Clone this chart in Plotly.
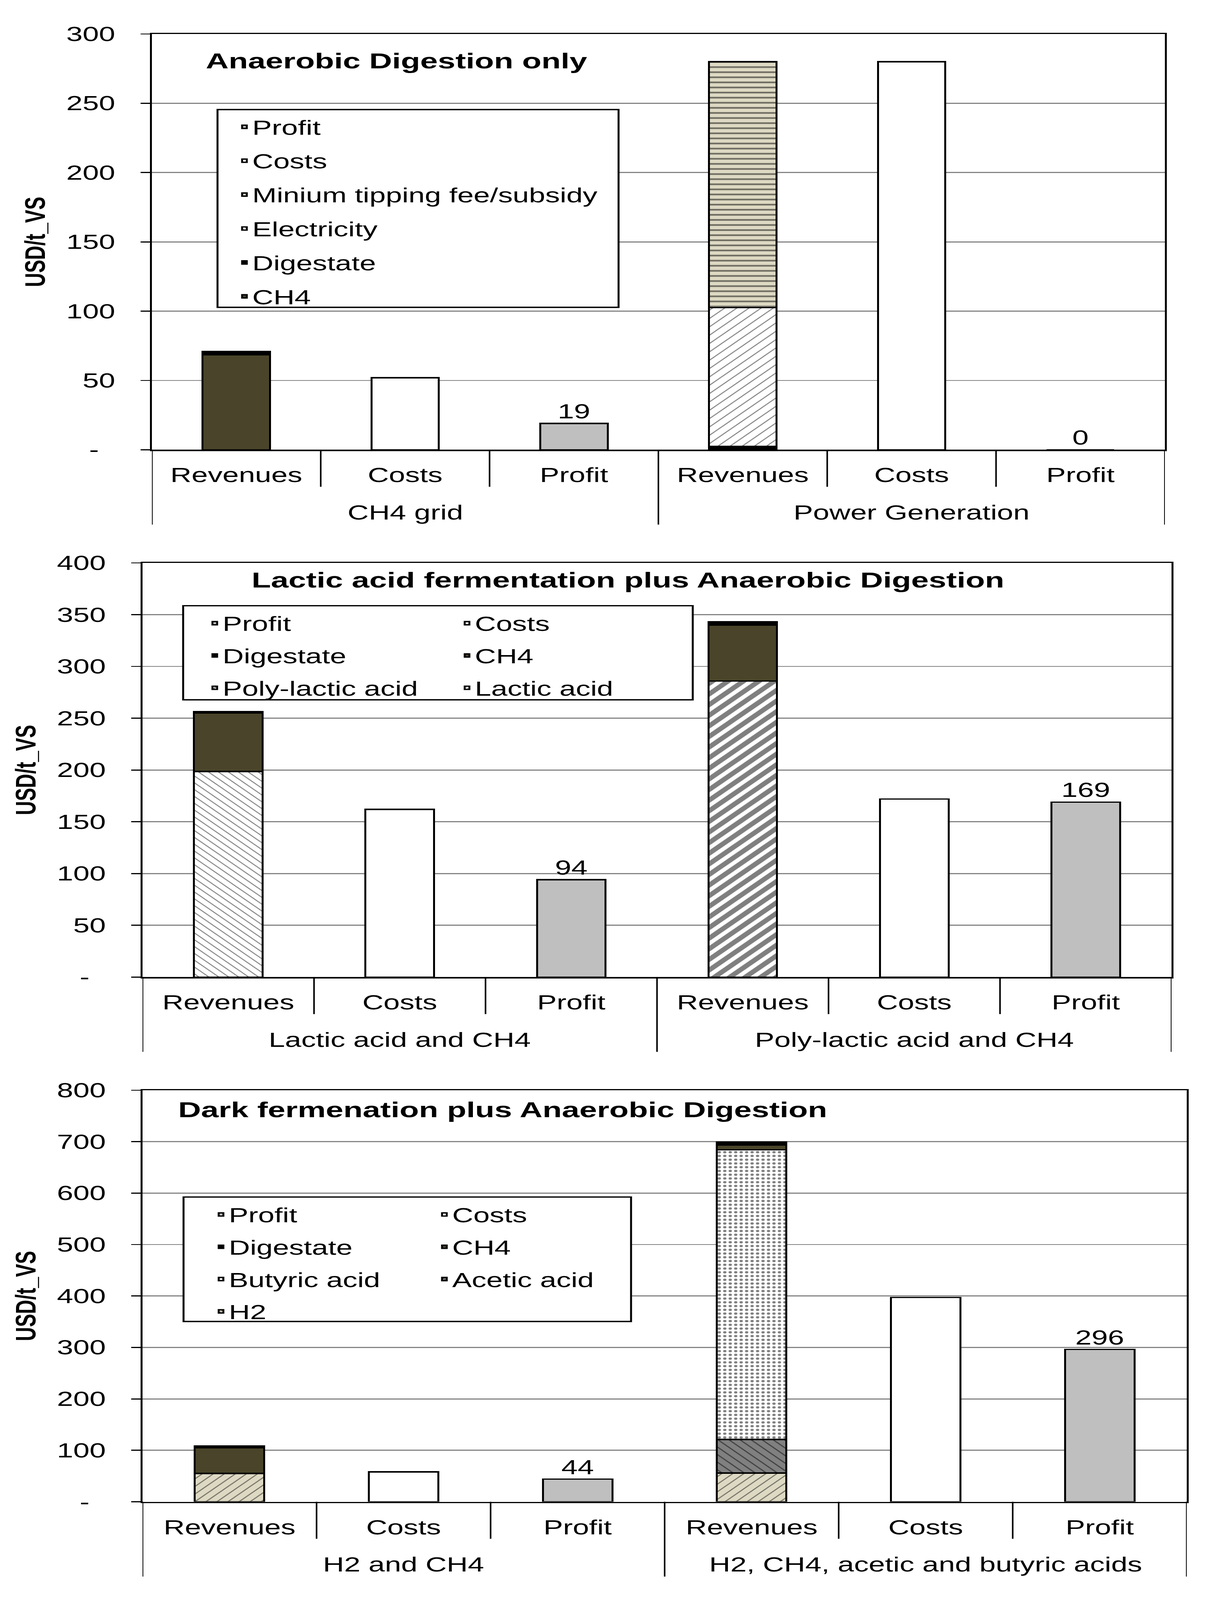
import plotly.graph_objects as go

W, H = 3096, 5968
FONT = "Liberation Sans, Arial, sans-serif"
FS = 75

items = ["Revenues", "Costs", "Profit"]

# ---------------- Panel 1: Anaerobic Digestion only ----------------
p1_title = "Anaerobic Digestion only"
p1_groups = ["CH4 grid", "Power Generation"]
p1_ch4 = [68.5, 0]
p1_digestate = [2.5, 2.5]
p1_electricity = [0, 100]
p1_tipping = [0, 177.5]
p1_costs = [52, 280]
p1_profit = [19, 0]
p1_yticks = [0, 50, 100, 150, 200, 250, 300]

# ---------------- Panel 2: Lactic acid fermentation ----------------
p2_title = "Lactic acid fermentation plus Anaerobic Digestion"
p2_groups = ["Lactic acid and CH4", "Poly-lactic acid and CH4"]
p2_lactic = [198.5, 0]
p2_pla = [0, 286]
p2_ch4 = [56.5, 54]
p2_digestate = [1.5, 3]
p2_costs = [162, 172]
p2_profit = [94, 169]
p2_yticks = [0, 50, 100, 150, 200, 250, 300, 350, 400]

# ---------------- Panel 3: Dark fermentation ----------------
p3_title = "Dark fermenation plus Anaerobic Digestion"
p3_groups = ["H2 and CH4", "H2, CH4, acetic and butyric acids"]
p3_h2 = [55, 56]
p3_acetic = [0, 65]
p3_butyric = [0, 563]
p3_ch4 = [50, 9.5]
p3_digestate = [3.5, 5.5]
p3_costs = [58, 397]
p3_profit = [44, 296]
p3_yticks = [0, 100, 200, 300, 400, 500, 600, 700, 800]

BEIGE = "#DDD9C3"
styles = {
    "Profit": dict(color="#BFBFBF"),
    "Costs": dict(color="#FFFFFF"),
    "CH4": dict(color="#4A452A"),
    "Digestate": dict(color="#000000"),
    "Electricity": dict(color="#FFFFFF", pattern=dict(shape="/", fgcolor="#000000", bgcolor="#FFFFFF", size=22, solidity=0.14)),
    "Minium tipping fee/subsidy": dict(color=BEIGE, pattern=dict(shape="-", fgcolor="#000000", bgcolor=BEIGE, size=19, solidity=0.32)),
    "Lactic acid": dict(color="#FFFFFF", pattern=dict(shape="\\", fgcolor="#000000", bgcolor="#FFFFFF", size=18, solidity=0.16)),
    "Poly-lactic acid": dict(color="#FFFFFF", pattern=dict(shape="/", fgcolor="#000000", bgcolor="#FFFFFF", size=28, solidity=0.55)),
    "Butyric acid": dict(color="#FFFFFF", pattern=dict(shape=".", fgcolor="#000000", bgcolor="#FFFFFF", size=14, solidity=0.3)),
    "Acetic acid": dict(color="#808080", pattern=dict(shape="\\", fgcolor="#000000", bgcolor="#808080", size=20, solidity=0.18)),
    "H2": dict(color=BEIGE, pattern=dict(shape="/", fgcolor="#000000", bgcolor=BEIGE, size=20, solidity=0.16)),
}

# panel geometry in pixels (left, right, top, bottom of plot area)
geo = [
    dict(l=389, r=2983, t=86, b=1659),
    dict(l=365, r=3000, t=2087, b=3654),
    dict(l=365, r=3039, t=4082, b=5639),
]

panels = [
    dict(title=p1_title, title_xy=(525, 188), groups=p1_groups, yticks=p1_yticks,
         revenue=[("CH4", p1_ch4), ("Digestate", p1_digestate), ("Electricity", p1_electricity),
                  ("Minium tipping fee/subsidy", p1_tipping)],
         costs=p1_costs, profit=p1_profit,
         legends=[dict(name="legend", x=606, y=381, gap=26,
                       order=["Profit", "Costs", "Minium tipping fee/subsidy", "Electricity", "Digestate", "CH4"])],
         box=(557, 372, 1584, 1120)),
    dict(title=p2_title, title_xy=(642, 2151), groups=p2_groups, yticks=p2_yticks,
         revenue=[("Lactic acid", p2_lactic), ("Poly-lactic acid", p2_pla), ("CH4", p2_ch4),
                  ("Digestate", p2_digestate)],
         costs=p2_costs, profit=p2_profit,
         legends=[dict(name="legend2", x=530, y=2259, gap=20, order=["Profit", "Digestate", "Poly-lactic acid"]),
                  dict(name="legend3", x=1176, y=2259, gap=20, order=["Costs", "CH4", "Lactic acid"])],
         box=(469, 2249, 1774, 2605)),
    dict(title=p3_title, title_xy=(454, 4155), groups=p3_groups, yticks=p3_yticks,
         revenue=[("H2", p3_h2), ("Acetic acid", p3_acetic), ("Butyric acid", p3_butyric),
                  ("CH4", p3_ch4), ("Digestate", p3_digestate)],
         costs=p3_costs, profit=p3_profit,
         legends=[dict(name="legend4", x=546, y=4496, gap=20, order=["Profit", "Digestate", "Butyric acid", "H2"]),
                  dict(name="legend5", x=1118, y=4496, gap=20, order=["Costs", "CH4", "Acetic acid"])],
         box=(470, 4486, 1616, 4957)),
]

fig = go.Figure()
shapes = []
annotations = []
layout = {}


def px_x(v):
    return v / W


def px_y(v):
    return 1 - v / H


for pi, p in enumerate(panels):
    g = geo[pi]
    n = "" if pi == 0 else str(pi + 1)
    xa, ya = "x" + n, "y" + n
    keys = [f"{grp}|{it}" for grp in p["groups"] for it in items]

    def expand(vals, item):
        out = []
        for grp_i, grp in enumerate(p["groups"]):
            for it in items:
                out.append(vals[grp_i] if it == item else None)
        return out

    legend_of = {}
    rank_of = {}
    for lg in p["legends"]:
        for r, nm in enumerate(lg["order"]):
            legend_of[nm] = lg["name"]
            rank_of[nm] = r + 1

    series = [(nm, vals, "Revenues") for nm, vals in p["revenue"]]
    series += [("Costs", p["costs"], "Costs"), ("Profit", p["profit"], "Profit")]
    for nm, vals, item in series:
        st = styles[nm]
        marker = dict(color=st["color"], line=dict(color="#000000", width=5))
        if "pattern" in st:
            marker["pattern"] = st["pattern"]
        yv = expand(vals, item)
        kw = {}
        if nm == "Profit":
            kw = dict(text=[("%d" % v) if v is not None else "" for v in yv],
                      textposition="outside", textfont=dict(size=FS, color="#000000", family=FONT),
                      cliponaxis=False, constraintext="none")
        fig.add_trace(go.Bar(
            x=keys, y=yv, name=nm, marker=marker, width=0.4,
            xaxis=xa, yaxis=ya, legend=legend_of[nm], legendrank=rank_of[nm],
            legendgroup=f"p{pi}_{nm}", hoverinfo="skip", **kw))

    xdom = [px_x(g["l"]), px_x(g["r"])]
    ydom = [px_y(g["b"]), px_y(g["t"])]
    yt = p["yticks"]
    layout["xaxis" + n] = dict(
        domain=xdom, anchor=ya, type="category", categoryorder="array", categoryarray=keys,
        range=[-0.5, len(keys) - 0.5], tickmode="array", tickvals=keys, ticktext=items * 2,
        ticks="", showline=True, linecolor="#000000", linewidth=5, mirror=True, showgrid=False,
        tickfont=dict(size=FS, family=FONT, color="#000000"), ticklabelstandoff=26, fixedrange=True)
    layout["yaxis" + n] = dict(
        domain=ydom, anchor=xa, range=[0, yt[-1]], tickmode="array", tickvals=yt,
        ticktext=["-\u00a0\u00a0"] + [str(v) for v in yt[1:]],
        ticks="outside", ticklen=24, tickwidth=4, tickcolor="#000000",
        showline=True, linecolor="#000000", linewidth=5, mirror=True,
        showgrid=True, gridcolor="#858585", gridwidth=4, zeroline=False,
        tickfont=dict(size=FS, family=FONT, color="#000000"), ticklabelstandoff=50,
        title=dict(text="USD/t_VS", font=dict(size=73, family=FONT, color="#000000", weight="bold"), standoff=32),
        fixedrange=True)

    # category dividers
    for b in range(len(keys) + 1):
        long_line = b % 3 == 0
        ln = 283 if long_line else 140
        shapes.append(dict(type="line", xref=xa, yref="paper", x0=b - 0.5, x1=b - 0.5,
                           y0=px_y(g["b"]), y1=px_y(g["b"] + ln),
                           line=dict(color="#000000", width=4)))
    # group labels
    for grp_i, grp in enumerate(p["groups"]):
        annotations.append(dict(text=grp, xref=xa, yref="paper", x=keys[grp_i * 3 + 1],
                                y=px_y(g["b"] + 238), xanchor="center", yanchor="middle",
                                showarrow=False, font=dict(size=FS, family=FONT, color="#000000")))
    # panel title
    tx, ty = p["title_xy"]
    annotations.append(dict(text=p["title"], xref="paper", yref="paper", x=px_x(tx), y=px_y(ty),
                            xanchor="left", yanchor="middle", showarrow=False,
                            font=dict(size=81, family=FONT, color="#000000", weight="bold")))
    # legend frame
    bx0, by0, bx1, by1 = p["box"]
    shapes.append(dict(type="rect", xref="paper", yref="paper", x0=px_x(bx0), x1=px_x(bx1),
                       y0=px_y(by1), y1=px_y(by0), line=dict(color="#000000", width=5),
                       fillcolor="#FFFFFF", layer="above"))
    for lg in p["legends"]:
        layout[lg["name"]] = dict(
            x=px_x(lg["x"]), y=px_y(lg["y"]), xanchor="left", yanchor="top",
            orientation="v", bgcolor="rgba(0,0,0,0)", borderwidth=0,
            font=dict(size=FS, family=FONT, color="#000000"),
            tracegroupgap=lg["gap"], traceorder="grouped", itemwidth=30, itemclick=False, itemdoubleclick=False)

fig.update_layout(
    width=W, height=H, autosize=False,
    margin=dict(l=0, r=0, t=0, b=0),
    paper_bgcolor="#FFFFFF", plot_bgcolor="#FFFFFF",
    barmode="stack", showlegend=True,
    font=dict(family=FONT, size=FS, color="#000000"),
    shapes=shapes, annotations=annotations,
    **layout)

# The browser window may be shorter than the requested figure; scale the page to fit it.
fit_script = """
(function(){
  var gd = document.getElementById('{plot_id}');
  document.body.style.margin = '0';
  document.body.style.overflow = 'hidden';
  var sx = Math.min(1, window.innerWidth / %d);
  var sy = Math.min(1, window.innerHeight / %d);
  if (sx < 1 || sy < 1) {
    gd.style.transformOrigin = '0 0';
    gd.style.transform = 'scale(' + sx + ',' + sy + ')';
  }
})();
""" % (W, H)
fig.write_html("out.html", post_script=fit_script, config={"displayModeBar": False})
